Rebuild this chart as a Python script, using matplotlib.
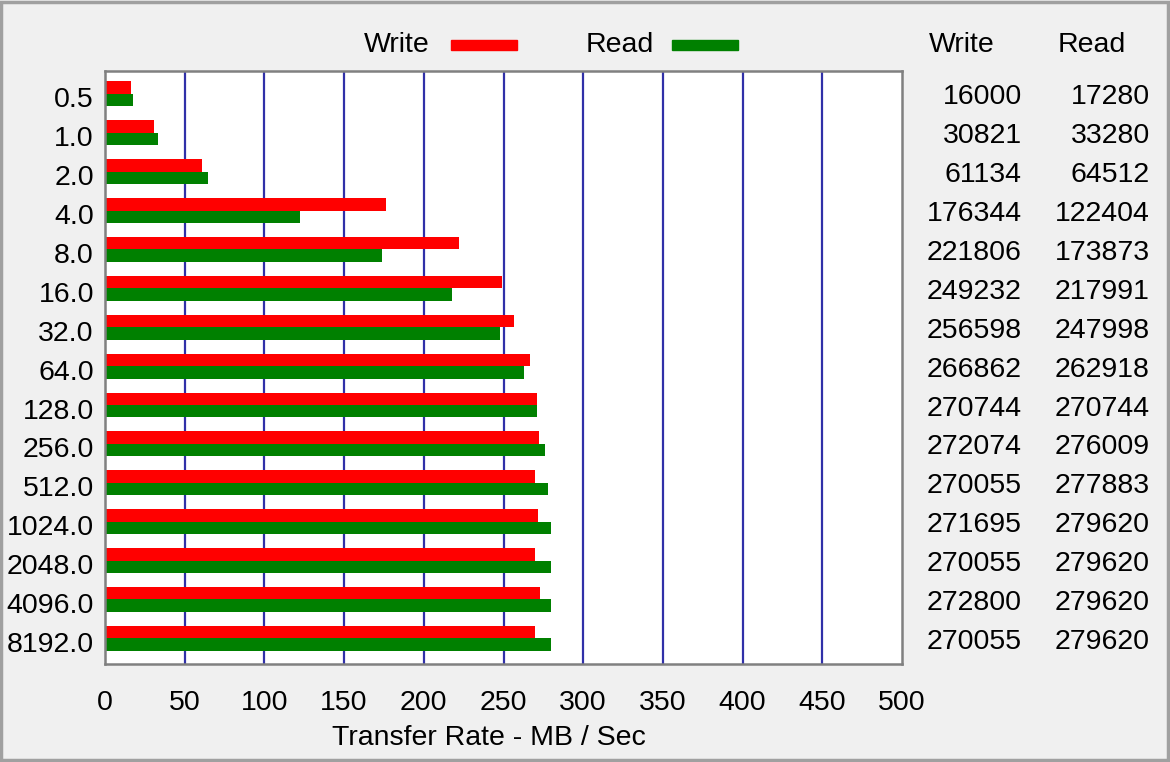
import matplotlib.pyplot as plt
from matplotlib.patches import Rectangle
from matplotlib.transforms import blended_transform_factory
import numpy as np

# -----------------------------
# DATA (KB/s)
# -----------------------------
sizes = ["0.5", "1.0", "2.0", "4.0", "8.0", "16.0", "32.0", "64.0", "128.0",
         "256.0", "512.0", "1024.0", "2048.0", "4096.0", "8192.0"]
write_kb = [16000, 30821, 61134, 176344, 221806, 249232, 256598, 266862,
            270744, 272074, 270055, 271695, 270055, 272800, 270055]
read_kb = [17280, 33280, 64512, 122404, 173873, 217991, 247998, 262918,
           270744, 276009, 277883, 279620, 279620, 279620, 279620]
x_ticks = [0, 50, 100, 150, 200, 250, 300, 350, 400, 450, 500]

W, H = 1170, 762
BG = "#f0f0f0"
RED = "#ff0000"
GREEN = "#008000"
GRID = "#3030a8"
FONT = "Liberation Sans"
FS = 20.5

plt.rcParams['font.family'] = [FONT, 'DejaVu Sans']

fig = plt.figure(figsize=(W / 100, H / 100), dpi=100, facecolor=BG)

# outer frame
fig.patches.append(Rectangle((0.001, 0.002), 0.997, 0.995, transform=fig.transFigure,
                             fill=False, edgecolor="#a0a0a0", linewidth=2.5))

ax = fig.add_axes([105 / W, 1 - 664 / H, (902 - 105) / W, (664 - 71) / H])
ax.set_facecolor("white")

y = np.arange(len(sizes))
bh = 0.32
split = -0.09   # red/green boundary sits a bit above the label centre
write_mb = np.array(write_kb) / 1000
read_mb = np.array(read_kb) / 1000

for xv in x_ticks[1:-1]:
    ax.axvline(xv, color=GRID, linewidth=1.6, zorder=1)

ax.barh(y + split - bh / 2, write_mb, height=bh, color=RED, zorder=2)
ax.barh(y + split + bh / 2, read_mb, height=bh, color=GREEN, zorder=2)

ax.set_xlim(0, 500)
ax.set_ylim(len(sizes) - 1 + 0.57, -0.68)
ax.set_xticks(x_ticks)
ax.set_xticklabels([str(v) for v in x_ticks], fontsize=FS)
ax.set_yticks(y)
ax.set_yticklabels(sizes, fontsize=FS)
ax.tick_params(axis="x", length=0, pad=19)
ax.tick_params(axis="y", length=0, pad=8)
for s in ax.spines.values():
    s.set_color("#808080")
    s.set_linewidth(1.8)

fig.text(489 / W, 1 - 738 / H, "Transfer Rate - MB / Sec", ha="center", va="center", fontsize=FS)

# legend
fig.text(430 / W, 1 - 45 / H, "Write", ha="right", va="center", fontsize=FS)
fig.patches.append(Rectangle((451 / W, 1 - 50 / H), 66 / W, 10 / H,
                             transform=fig.transFigure, color=RED))
fig.text(654 / W, 1 - 45 / H, "Read", ha="right", va="center", fontsize=FS)
fig.patches.append(Rectangle((672 / W, 1 - 50 / H), 66 / W, 10 / H,
                             transform=fig.transFigure, color=GREEN))

# value table on the right
fig.text(995 / W, 1 - 45 / H, "Write", ha="right", va="center", fontsize=FS)
fig.text(1126 / W, 1 - 45 / H, "Read", ha="right", va="center", fontsize=FS)
trans = blended_transform_factory(fig.transFigure, ax.transData)
for i in range(len(sizes)):
    ax.text(1022 / W, i, str(write_kb[i]), transform=trans, ha="right", va="center",
            fontsize=FS, clip_on=False)
    ax.text(1150 / W, i, str(read_kb[i]), transform=trans, ha="right", va="center",
            fontsize=FS, clip_on=False)

fig.savefig("out.png", dpi=100, facecolor=BG)
